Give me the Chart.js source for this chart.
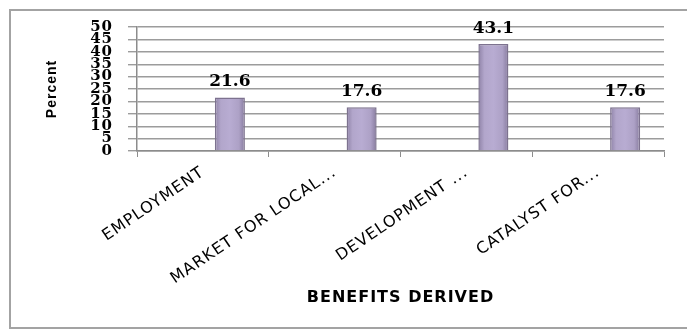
<!DOCTYPE html>
<html lang="en">
<head>
<meta charset="UTF-8">
<title>Benefits Derived</title>
<style>
  body { margin: 0; background: #fff; overflow: hidden; }
  .frame {
    position: absolute;
    left: 9px;
    top: 9px;
    width: 700px;
    height: 316px;
    border: 2px solid #a3a3a3;
  }
  .chart-box {
    position: absolute;
    left: 0;
    top: 0;
    width: 687px;
    height: 333px;
  }
</style>
</head>
<body>
<div class="frame"></div>
<div class="chart-box"><canvas id="benefitsChart"></canvas></div>

<script src="https://cdn.jsdelivr.net/npm/chart.js"></script>
<script>
  const categories = ['EMPLOYMENT', 'MARKET FOR LOCAL...', 'DEVELOPMENT ...', 'CATALYST FOR...'];
  const percentValues = [21.6, 17.6, 43.1, 17.6];
  const spacerValues = [null, null, null, null]; // empty slot, pushes the bars right like the original
  const yTickValues = [0, 5, 10, 15, 20, 25, 30, 35, 40, 45, 50];

  const catPct = 0.82;
  const barPct = 0.556;

  // shaded purple column, darker at the sides
  function barShade(context) {
    const chart = context.chart;
    const xScale = chart.scales.x;
    if (!xScale || !xScale.width) return '#b3a6cc';
    const slot = xScale.width / categories.length;
    const center = xScale.getPixelForValue(context.dataIndex) + catPct * slot / 4;
    const half = barPct * catPct * slot / 4;
    const g = chart.ctx.createLinearGradient(center - half, 0, center + half, 0);
    g.addColorStop(0, '#8e82a6');
    g.addColorStop(0.2, '#b2a6cb');
    g.addColorStop(0.5, '#b8acd2');
    g.addColorStop(0.8, '#ada1c6');
    g.addColorStop(1, '#867a9d');
    return g;
  }

  // the original's axis text is drawn wide; spread the letters a little
  const wideAxisText = {
    id: 'wideAxisText',
    beforeDraw(chart) {
      chart.ctx.letterSpacing = '1px';
    },
    beforeDatasetsDraw(chart) {
      chart.ctx.letterSpacing = '0px';
    }
  };

  // numbers above the bars
  const valueLabels = {
    id: 'valueLabels',
    afterDatasetsDraw(chart) {
      const ctx = chart.ctx;
      const meta = chart.getDatasetMeta(1);
      ctx.save();
      ctx.font = 'bold 17px "DejaVu Serif"';
      ctx.fillStyle = '#000';
      ctx.textAlign = 'center';
      ctx.textBaseline = 'alphabetic';
      meta.data.forEach((bar, i) => {
        ctx.fillText(percentValues[i].toFixed(1), bar.x, bar.y - 11);
      });
      ctx.restore();
    }
  };

  const ctx = document.getElementById('benefitsChart').getContext('2d');

  new Chart(ctx, {
    type: 'bar',
    data: {
      labels: categories,
      datasets: [
        {
          label: 'spacer',
          data: spacerValues,
          backgroundColor: 'rgba(0,0,0,0)'
        },
        {
          label: 'Percent',
          data: percentValues,
          backgroundColor: barShade,
          borderColor: '#7d728f',
          borderWidth: 1.5
        }
      ]
    },
    options: {
      responsive: true,
      maintainAspectRatio: false,
      animation: false,
      categoryPercentage: catPct,
      barPercentage: barPct,
      layout: {
        padding: { left: 40, right: 23, top: 27, bottom: 22 }
      },
      plugins: {
        legend: { display: false },
        tooltip: { enabled: false }
      },
      scales: {
        x: {
          grid: {
            offset: true,
            drawOnChartArea: false,
            drawTicks: true,
            tickLength: 6,
            color: '#8c8c8c'
          },
          border: { color: '#8c8c8c', width: 1.5 },
          ticks: {
            autoSkip: false,
            minRotation: 34,
            maxRotation: 34,
            padding: 6,
            color: '#000',
            font: { family: 'DejaVu Sans', size: 16 }
          },
          title: {
            display: true,
            text: 'BENEFITS DERIVED',
            color: '#000',
            font: { family: 'DejaVu Sans', size: 16, weight: 'bold' }
          },
          afterFit(scale) {
            scale.height = 160;
          }
        },
        y: {
          min: yTickValues[0],
          max: yTickValues[yTickValues.length - 1],
          grid: {
            color: '#9c9c9c',
            lineWidth: 1.4,
            tickLength: 9
          },
          border: { color: '#8c8c8c', width: 1.5 },
          ticks: {
            stepSize: yTickValues[1] - yTickValues[0],
            autoSkip: false,
            padding: 15,
            color: '#000',
            font: { family: 'DejaVu Serif', size: 15, weight: 'bold' }
          },
          title: {
            display: true,
            text: 'Percent',
            color: '#000',
            font: { family: 'Liberation Sans', size: 14, weight: 'bold' }
          },
          afterFit(scale) {
            scale.width = 97;
          }
        }
      }
    },
    plugins: [wideAxisText, valueLabels]
  });
</script>
</body>
</html>
